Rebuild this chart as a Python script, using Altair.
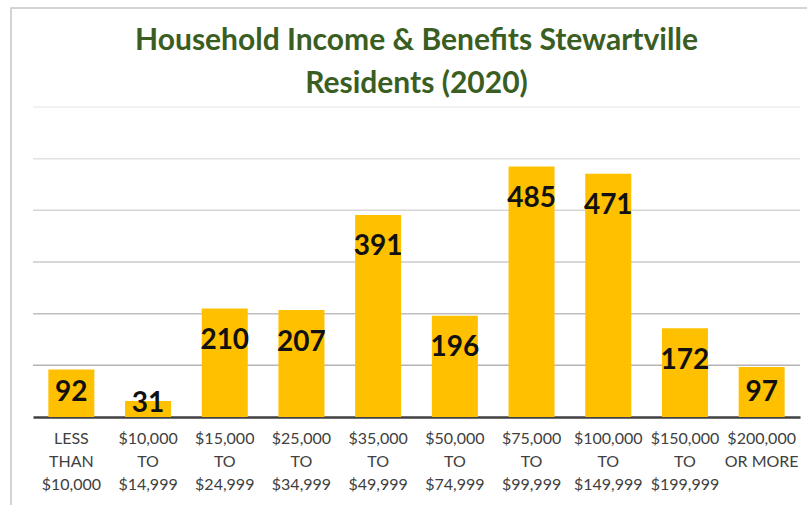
import altair as alt
import pandas as pd

# Income brackets ("|" marks a line break in the axis label) and household counts
brackets = [
    "LESS|THAN|$10,000",
    "$10,000|TO|$14,999",
    "$15,000|TO|$24,999",
    "$25,000|TO|$34,999",
    "$35,000|TO|$49,999",
    "$50,000|TO|$74,999",
    "$75,000|TO|$99,999",
    "$100,000|TO|$149,999",
    "$150,000|TO|$199,999",
    "$200,000|OR MORE",
]
households = [92, 31, 210, 207, 391, 196, 485, 471, 172, 97]
grid_values = [100, 200, 300, 400, 500, 600]
title_lines = ["Household Income & Benefits Stewartville", "Residents (2020)"]

df = pd.DataFrame({"bracket": brackets, "households": households})
grid_df = pd.DataFrame({"g": grid_values})
one_row = pd.DataFrame({"k": [0]})

FONT = "Lato"
W, H = 767, 310

x_enc = alt.X(
    "bracket:N",
    sort=brackets,
    scale=alt.Scale(paddingInner=0.4, paddingOuter=0.2),
    axis=alt.Axis(
        title=None,
        labelExpr="split(datum.label, '|')",
        labelAngle=0,
        labelFont=FONT,
        labelFontSize=16,
        labelColor="#404040",
        labelLineHeight=23,
        labelBaseline="top",
        labelPadding=13,
        labelLimit=0,
        ticks=False,
        domainColor="#404040",
        domainWidth=2.5,
        grid=False,
    ),
)
y_scale = alt.Scale(domain=[0, 600], nice=False)

# outer frame around the whole chart
frame = alt.Chart(one_row).mark_rect(
    fill=None, stroke="#c6c6c6", strokeWidth=1.5
).encode(
    x=alt.value(-22), x2=alt.value(790),
    y=alt.value(-99), y2=alt.value(420),
)

# two-line chart title, centred over the plot
title_style = dict(font=FONT, fontSize=30, fontWeight="bold", color="#3a5e22",
                   align="center", baseline="alphabetic")
title1 = alt.Chart(one_row).mark_text(text=title_lines[0], **title_style).encode(
    x=alt.value(W / 2), y=alt.value(-57)
)
title2 = alt.Chart(one_row).mark_text(text=title_lines[1], **title_style).encode(
    x=alt.value(W / 2), y=alt.value(-14)
)

grid = alt.Chart(grid_df).mark_rule(strokeWidth=1.5).encode(
    y=alt.Y("g:Q", scale=y_scale, axis=None),
    color=alt.Color("g:Q", scale=alt.Scale(domain=[100, 600], range=["#b4b4b4", "#ececec"]), legend=None),
)

bars = alt.Chart(df).mark_bar(color="#FFC000").encode(
    x=x_enc,
    y=alt.Y("households:Q", scale=y_scale, axis=None),
)

# value labels sit just inside the top of each bar; short bars keep them above the baseline
labels = alt.Chart(df).transform_calculate(
    label_y="max(datum.households - 57, min(datum.households, 52))"
).mark_text(
    font=FONT, fontSize=28, fontWeight="bold", color="#111111", baseline="middle", dy=3
).encode(
    x=x_enc,
    y=alt.Y("label_y:Q", scale=y_scale, axis=None),
    text=alt.Text("households:Q"),
)

chart = alt.layer(frame, title1, title2, grid, bars, labels).properties(
    width=W,
    height=H,
    autosize=alt.AutoSizeParams(type="none"),
    padding={"left": 33, "top": 107, "right": 7, "bottom": 88},
).configure_view(stroke=None)

chart.save("out.html", embed_options={"renderer": "svg", "actions": False})
